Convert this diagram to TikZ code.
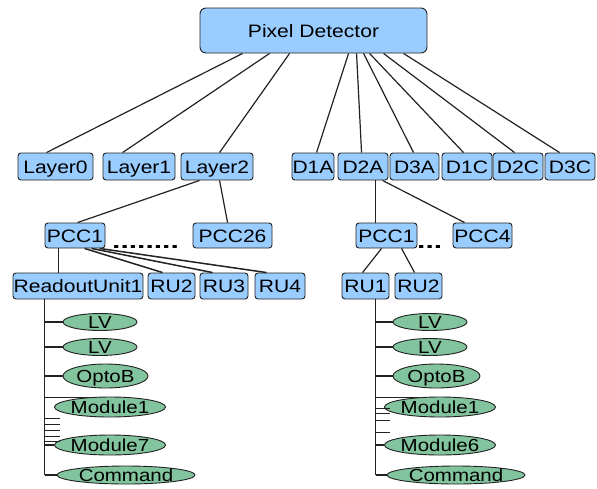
\documentclass[tikz,border=0pt]{standalone}
\usepackage{fontspec}
\usepackage{graphicx}
\setmainfont{Liberation Sans}
\usetikzlibrary{shapes.geometric}
\definecolor{boxfill}{HTML}{99CCFF}
\definecolor{ellfill}{HTML}{82C49E}
\definecolor{edge}{HTML}{222222}
% slightly widened lettering
\newcommand\wide[1]{\scalebox{1.17}[1]{#1}}
\newcommand\dotrow[1]{{\fontsize{20}{20}\selectfont\bfseries\scalebox{1.5}[1]{#1}}}
\tikzset{
  unit/.style={draw=edge, line width=0.9pt, fill=boxfill, rounded corners=3pt,
    inner sep=0pt, text height=13pt, text depth=0pt,
    font=\fontsize{18}{18}\selectfont},
  leaf/.style={ellipse, draw=edge, line width=0.9pt, fill=ellfill, inner sep=0pt,
    text height=12pt, text depth=0pt, font=\fontsize{17.5}{17.5}\selectfont},
  link/.style={draw=edge, line width=1.2pt},
}
\begin{document}
\begin{tikzpicture}[x=1pt, y=-1pt]
\useasboundingbox (0,0) rectangle (597,488);

% top level
\node[unit, minimum width=227, minimum height=45, rounded corners=6pt] (pd) at (313.5,30.5) {\wide{Pixel Detector}};

% layers and disks
\node[unit, minimum width=75, minimum height=27] (l0) at (55.5,166.5) {\wide{Layer0}};
\node[unit, minimum width=72, minimum height=27] (l1) at (139,166.5) {\wide{Layer1}};
\node[unit, minimum width=72, minimum height=27] (l2) at (217,166.5) {\wide{Layer2}};
\node[unit, minimum width=42, minimum height=27] (d1a) at (313,166.5) {\wide{D1A}};
\node[unit, minimum width=50, minimum height=27] (d2a) at (363,166.5) {\wide{D2A}};
\node[unit, minimum width=49, minimum height=27] (d3a) at (414.5,166.5) {\wide{D3A}};
\node[unit, minimum width=50, minimum height=27] (d1c) at (467,166.5) {\wide{D1C}};
\node[unit, minimum width=50, minimum height=27] (d2c) at (518,166.5) {\wide{D2C}};
\node[unit, minimum width=50, minimum height=27] (d3c) at (570,166.5) {\wide{D3C}};

% power/control crates
\node[unit, minimum width=60, minimum height=25] (pccl) at (75,235.5) {\wide{PCC1}};
\node[unit, minimum width=79, minimum height=25] (pcc26) at (232.5,235.5) {\wide{PCC26}};
\node[anchor=base west, inner sep=0pt] (dotsl) at (112,248) {\dotrow{........}};
\node[unit, minimum width=61, minimum height=25] (pccr) at (386.5,235.5) {\wide{PCC1}};
\node[unit, minimum width=59, minimum height=25] (pcc4) at (482.5,235.5) {\wide{PCC4}};
\node[anchor=base west, inner sep=0pt] (dotsr) at (417,248) {\dotrow{...}};

% readout units
\node[unit, minimum width=130, minimum height=26] (ro1) at (78,286) {\wide{ReadoutUnit1}};
\node[unit, minimum width=47, minimum height=26] (ru2) at (171.5,286) {\wide{RU2}};
\node[unit, minimum width=48, minimum height=26] (ru3) at (224,286) {\wide{RU3}};
\node[unit, minimum width=50, minimum height=26] (ru4) at (280,286) {\wide{RU4}};
\node[unit, minimum width=47, minimum height=26] (ru1r) at (365.5,286) {\wide{RU1}};
\node[unit, minimum width=47, minimum height=26] (ru2r) at (418.5,286) {\wide{RU2}};

% leaves, barrel side
\node[leaf, minimum width=74, minimum height=15] (lva) at (100,322) {\wide{LV}};
\node[leaf, minimum width=74, minimum height=15] (lvb) at (100,347) {\wide{LV}};
\node[leaf, minimum width=85, minimum height=24] (opl) at (105.5,376) {\wide{OptoB}};
\node[leaf, minimum width=106, minimum height=20] (m1l) at (110,407) {\wide{Module1}};
\node[leaf, minimum width=106, minimum height=20] (m7l) at (110,445) {\wide{Module7}};
\node[leaf, minimum width=138, minimum height=18] (cml) at (126,475) {\wide{Command}};

% leaves, disk side
\node[leaf, minimum width=74, minimum height=15] (lvc) at (430,322) {\wide{LV}};
\node[leaf, minimum width=74, minimum height=15] (lvd) at (430,347) {\wide{LV}};
\node[leaf, minimum width=87, minimum height=24] (opr) at (436.5,376) {\wide{OptoB}};
\node[leaf, minimum width=106, minimum height=20] (m1r) at (440,407) {\wide{Module1}};
\node[leaf, minimum width=106, minimum height=20] (m6r) at (440,445) {\wide{Module6}};
\node[leaf, minimum width=138, minimum height=18] (cmr) at (456,475) {\wide{Command}};

% detector to layers and disks
\draw[link] ([xshift=43pt]pd.south west) -- ([xshift=29pt]l0.north west);
\draw[link] ([xshift=70pt]pd.south west) -- ([xshift=20pt]l1.north west);
\draw[link] ([xshift=90pt]pd.south west) -- ([xshift=39pt]l2.north west);
\draw[link] ([xshift=149pt]pd.south west) -- ([xshift=25pt]d1a.north west);
\draw[link] ([xshift=157pt]pd.south west) -- ([xshift=24pt]d2a.north west);
\draw[link] ([xshift=164pt]pd.south west) -- ([xshift=24pt]d3a.north west);
\draw[link] ([xshift=170pt]pd.south west) -- ([xshift=22pt]d1c.north west);
\draw[link] ([xshift=184pt]pd.south west) -- ([xshift=22pt]d2c.north west);
\draw[link] ([xshift=204pt]pd.south west) -- ([xshift=15pt]d3c.north west);

% layer to crates
\draw[link] ([xshift=19pt]l2.south west) -- ([xshift=33pt]pccl.north west);
\draw[link] ([xshift=39pt]l2.south west) -- ([xshift=35pt]pcc26.north west);
\draw[link] ([xshift=38pt]d2a.south west) -- ([xshift=20pt]pccr.north west);
\draw[link] ([xshift=45pt]d2a.south west) -- ([xshift=12pt]pcc4.north west);

% crates to readout units
\draw[link] ([xshift=14pt]pccl.south west) -- ([xshift=46pt]ro1.north west);
\draw[link, line width=1.5pt] ([xshift=40pt]pccl.south west) -- ([xshift=15pt]ru2.north west);
\draw[link, line width=1.5pt] ([xshift=47pt]pccl.south west) -- ([xshift=13pt]ru3.north west);
\draw[link, line width=1.5pt] ([xshift=55pt]pccl.south west) -- ([xshift=12pt]ru4.north west);
\draw[link] ([xshift=26pt]pccr.south west) -- ([xshift=21pt]ru1r.north west);
\draw[link] ([xshift=46pt]pccr.south west) -- ([xshift=20pt]ru2r.north west);

% barrel trunk and branches
\coordinate (tl) at ([xshift=32pt]ro1.south west);
\draw[link] (tl) -- (tl |- cml.west);
\draw[link] (tl |- lva.west) -- (lva.west);
\draw[link, line width=1.6pt] (tl |- lvb.west) -- (lvb.west);
\draw[link] (tl |- opl.west) -- (opl.west);
\draw[link] (tl |- m1l.155) -- (m1l.155);
\draw[link] (tl |- m7l.west) -- (m7l.west);
\draw[link] (tl |- cml.west) -- (cml.west);
\foreach \d in {119,125,131,137,142}
  \draw[link] (tl) ++(0,\d) -- ++(15,0);

% disk trunk and branches
\coordinate (tr) at ([xshift=34pt]ru1r.south west);
\draw[link] (tr) -- (tr |- cmr.west);
\draw[link] (tr |- lvc.west) -- (lvc.west);
\draw[link, line width=1.6pt] (tr |- lvd.west) -- (lvd.west);
\draw[link] (tr |- opr.west) -- (opr.west);
\draw[link] (tr |- m1r.155) -- (m1r.155);
\draw[link] (tr |- m6r.west) -- (m6r.west);
\draw[link] (tr |- cmr.west) -- (cmr.west);
\foreach \d in {109,114,121,133}
  \draw[link] (tr) ++(0,\d) -- ++(14,0);
\end{tikzpicture}
\end{document}
